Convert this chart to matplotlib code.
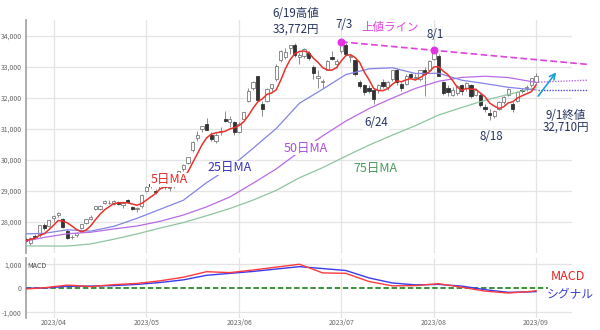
import numpy as np
import pandas as pd
import matplotlib
matplotlib.use("Agg")
import matplotlib.pyplot as plt
from matplotlib.ticker import FuncFormatter

plt.rcParams['font.family'] = ['Noto Sans CJK JP', 'DejaVu Sans']

# ---------------- data ----------------
mar_days = [24, 27, 28, 29, 30, 31]
apr_days = [3, 4, 5, 6, 7, 10, 11, 12, 13, 14, 17, 18, 19, 20, 21, 24, 25, 26, 27, 28]
may_days = [1, 2, 8, 9, 10, 11, 12, 15, 16, 17, 18, 19, 22, 23, 24, 25, 26, 29, 30, 31]
jun_days = [1, 2, 5, 6, 7, 8, 9, 12, 13, 14, 15, 16, 19, 20, 21, 22, 23, 26, 27, 28, 29, 30]
jul_days = [3, 4, 5, 6, 7, 10, 11, 12, 13, 14, 18, 19, 20, 21, 24, 25, 26, 27, 28, 31]
aug_days = [1, 2, 3, 4, 7, 8, 9, 10, 14, 15, 16, 17, 18, 21, 22, 23, 24, 25, 28, 29, 30, 31]
sep_days = [1]
month_days = [(3, mar_days), (4, apr_days), (5, may_days), (6, jun_days),
              (7, jul_days), (8, aug_days), (9, sep_days)]
dates = [f"{m:02d}/{d:02d}" for m, days in month_days for d in days]

opens = [27440, 27300, 27520, 27560, 27900, 27870,
         28130, 28220, 28100, 27700, 27500, 27560, 27800, 27950, 28080, 28400, 28400, 28600, 28600, 28570,
         28620, 28550, 28690, 28480, 28400, 28500,
         29000, 29200, 29000, 29100, 29200, 29100, 29150, 29500, 29700, 29900, 30300, 30700, 31000, 31150,
         30800, 30600, 30900, 31300, 31200, 31200,
         30900, 31300, 31900, 32300, 32700, 31800, 31900, 32300, 32600, 33200, 33300, 33600, 33700, 33300,
         33350, 33450, 33000, 32650, 32500, 32900, 33300, 33100,
         33500, 33700, 33300, 33200, 32500, 32400, 32300, 32250, 32250, 32500, 32350, 32600, 32900, 32450,
         32450, 32750, 32650, 32600, 32900, 32900,
         33250, 33350, 32500, 32300, 32100, 32150, 32400, 32300, 32400, 32100, 32100, 31700, 31500, 31400,
         31650, 31850, 32100, 31800, 31900, 32250, 32300, 32400,
         32500]
highs = [27520, 27520, 27600, 27900, 27950, 28050,
         28200, 28300, 28130, 27750, 27560, 27660, 27930, 28100, 28200, 28520, 28550, 28700, 28700, 28700,
         28680, 28620, 28720, 28520, 28470, 28880,
         29150, 29280, 29050, 29260, 29250, 29180, 29400, 29650, 29850, 30100, 30600, 30920, 31100, 31350,
         30900, 30850, 31050, 31560, 31400, 31250,
         31200, 31550, 32300, 32550, 32710, 31900, 32300, 32450, 33100, 33550, 33600, 33710, 33772, 33450,
         33600, 33500, 33050, 32900, 32600, 33200, 33500, 33250,
         33762, 33760, 33400, 33220, 32580, 32450, 32400, 32300, 32450, 32600, 32550, 32900, 32950, 32500,
         32750, 32800, 32750, 32900, 33000, 33200,
         33488, 33400, 32550, 32400, 32350, 32400, 32450, 32500, 32450, 32300, 32150, 31800, 31620, 31600,
         31900, 32050, 32300, 31850, 32200, 32300, 32400, 32650,
         32800]
lows = [27300, 27250, 27460, 27520, 27720, 27840,
        28000, 28150, 27800, 27430, 27430, 27500, 27750, 27930, 28050, 28370, 28390, 28560, 28560, 28550,
        28540, 28450, 28590, 28380, 28300, 28450,
        28950, 29100, 28880, 29050, 29050, 29000, 29100, 29450, 29650, 29850, 30250, 30600, 30900, 30950,
        30600, 30550, 30800, 31200, 31050, 30800,
        30850, 31250, 31850, 32250, 31900, 31400, 31850, 32200, 32550, 33150, 33250, 33400, 33300, 33100,
        33280, 33200, 32600, 32300, 32300, 32880, 33200, 32950,
        33450, 33400, 33150, 32700, 32300, 32100, 32150, 31800, 32150, 32300, 32250, 32550, 32400, 32200,
        32400, 32650, 32600, 32550, 32050, 32850,
        33200, 32700, 32100, 32050, 32050, 32100, 32100, 32200, 32000, 32050, 31700, 31550, 31275, 31350,
        31600, 31800, 32050, 31550, 31850, 32150, 32200, 32350,
        32450]
closes = [27385, 27476, 27518, 27883, 27782, 28041,
          28188, 28287, 27813, 27472, 27518, 27633, 27923, 28082, 28157, 28493, 28514, 28658, 28606, 28657,
          28564, 28593, 28620, 28416, 28457, 28856,
          29123, 29157, 28949, 29242, 29122, 29126, 29388, 29626, 29842, 30093, 30573, 30808, 31086, 30958,
          30682, 30801, 30916, 31233, 31328, 30888,
          31148, 31524, 32217, 32506, 31913, 31641, 32265, 32434, 33018, 33502, 33485, 33706, 33370, 33388,
          33575, 33265, 32781, 32698, 32538, 33193, 33234, 33189,
          33753, 33422, 33338, 32773, 32388, 32189, 32203, 31943, 32419, 32391, 32493, 32896, 32490, 32304,
          32700, 32682, 32668, 32891, 32759, 33172,
          33476, 32707, 32159, 32192, 32254, 32377, 32204, 32473, 32059, 32238, 31766, 31626, 31450, 31565,
          31856, 32010, 32287, 31624, 32169, 32227, 32333, 32619,
          32710]

ma_sample_dates = ["03/24", "03/30", "04/06", "04/13", "04/20", "04/27", "05/09", "05/16", "05/23",
                   "05/30", "06/06", "06/13", "06/20", "06/27", "07/04", "07/11", "07/19", "07/26",
                   "08/02", "08/09", "08/17", "08/24", "08/31", "09/01"]
ma25 = [27607, 27625, 27739, 27695, 27850, 28109, 28401, 28693, 29261, 29742, 30368, 31005,
        31819, 32273, 32746, 32930, 32965, 32781, 32787, 32563, 32454, 32335, 32260, 32253]
ma50 = [27372, 27494, 27611, 27660, 27765, 27861, 28013, 28216, 28478, 28796, 29239, 29703,
        30256, 30767, 31244, 31649, 31985, 32300, 32530, 32654, 32692, 32650, 32520, 32503]
ma75 = [27219, 27215, 27214, 27281, 27434, 27605, 27796, 27972, 28193, 28424, 28696, 29010,
        29417, 29743, 30113, 30469, 30791, 31098, 31440, 31684, 31917, 32102, 32287, 32322]
macd = [-30, 20, 130, 70, 150, 200, 310, 460, 690, 650, 760, 880,
        1000, 640, 620, 280, 100, 110, 190, 40, -120, -200, -130, -100]
signal = [0, 10, 80, 90, 110, 160, 240, 350, 540, 620, 700, 800,
          900, 820, 740, 430, 220, 140, 160, 90, -60, -170, -150, -140]

month_labels = ["2023/04", "2023/05", "2023/06", "2023/07", "2023/08", "2023/09"]
price_ticks = [28000, 29000, 30000, 31000, 32000, 33000, 34000]
macd_ticks = [-1000, 0, 1000]

# ---------------- derived positions ----------------
x = np.arange(len(dates))
idx = {d: i for i, d in enumerate(dates)}
xs = np.array([idx[d] for d in ma_sample_dates])
ma5 = pd.Series(closes, dtype=float).rolling(5, min_periods=1).mean()
month_pos = [next(i for i, d in enumerate(dates) if d.startswith(lab[-2:] + "/")) for lab in month_labels]

XL = (0.07, 117.75)

fig = plt.figure(figsize=(6, 3.3), dpi=100)
ax = fig.add_axes([26/600, 1-253/330, 546/600, 233/330])
ax2 = fig.add_axes([26/600, 1-318/330, 546/600, 60/330])

grid_c = '#e4e4e4'
for a in (ax, ax2):
    a.set_xlim(*XL)
    for s in ('top', 'right', 'bottom'):
        a.spines[s].set_visible(False)
    a.spines['left'].set_color('#a0a0a0')
    a.spines['left'].set_linewidth(1.2)
    a.tick_params(length=0, labelsize=5, labelcolor='#666666', pad=3)
    a.set_xticks(month_pos)
    for p in month_pos:
        a.axvline(p, color=grid_c, lw=0.9, zorder=0)

ax.set_ylim(26990, 34506)
ax.set_yticks(price_ticks)
ax.yaxis.set_major_formatter(FuncFormatter(lambda v, p: f"{int(v):,}"))
ax.set_xticklabels([])
for t in price_ticks:
    ax.axhline(t, color=grid_c, lw=0.9, zorder=0)

# candles
o = np.array(opens); c = np.array(closes); h = np.array(highs); l = np.array(lows)
up = c >= o
ax.vlines(x, l, h, color='#7a7a7a', lw=0.6, zorder=2)
body_h = np.maximum(np.abs(c - o), 15)
ax.bar(x[up], body_h[up], bottom=np.minimum(o, c)[up], width=0.7,
       color='white', edgecolor='#7a7a7a', linewidth=0.6, zorder=3)
ax.bar(x[~up], body_h[~up], bottom=np.minimum(o, c)[~up], width=0.7,
       color='#333333', edgecolor='#333333', linewidth=0.6, zorder=3)

# moving averages
ax.plot(xs, ma75, color='#8fc4a0', lw=0.9, zorder=4)
ax.plot(xs, ma50, color='#b86ce8', lw=0.9, zorder=4)
ax.plot(xs, ma25, color='#8484e6', lw=0.9, zorder=4)
ax.plot(x, ma5, color='#e8332c', lw=1.1, zorder=5)

# extension dotted lines
ax.plot([xs[-1] + 0.5, 121], [ma50[-1], ma50[-1] + 60], color='#b86ce8', lw=1.0,
        ls=(0, (1, 1)), clip_on=False, zorder=5)
ax.plot([xs[-1] + 0.5, 121], [ma25[-1], ma25[-1]], color='#4a4ad8', lw=1.0,
        ls=(0, (1, 1)), clip_on=False, zorder=5)

# resistance line
i1, i2 = idx["07/03"], idx["08/01"]
slope = (highs[i2] - highs[i1]) / (i2 - i1)
xe = 121.2
ax.plot([i1, xe], [highs[i1] + 40, highs[i1] + 40 + slope * (xe - i1)], color='#e040e0',
        lw=1.2, ls=(0, (4, 2)), clip_on=False, zorder=6)
ax.scatter([i1, i2], [highs[i1] + 40, highs[i2] + 40], s=22, color='#e82ee8', zorder=7, clip_on=False)

# arrow
ax.annotate('', xy=(114.7, 32890), xytext=(110.1, 31980),
            arrowprops=dict(arrowstyle='->', color='#1e9fd6', lw=1.2), annotation_clip=False, zorder=7)

navy = '#26345e'
bb = dict(facecolor='white', edgecolor='none', pad=0.5)
ax.text(58.3, 34458, "6/19高値\n33,772円", ha='center', va='center', fontsize=8.3, color=navy,
        linespacing=1.2, bbox=bb, zorder=8, clip_on=False)
ax.text(68.6, 34345, "7/3", ha='center', va='center', fontsize=8.3, color=navy, zorder=8)
ax.text(78.5, 34248, "上値ライン", ha='center', va='center', fontsize=8.3, color='#e040e0', zorder=8)
ax.text(88.2, 34023, "8/1", ha='center', va='center', fontsize=8.3, color=navy, zorder=8)
ax.text(75.5, 31184, "6/24", ha='center', va='center', fontsize=8.3, color=navy, bbox=bb, zorder=8)
ax.text(100.3, 30732, "8/18", ha='center', va='center', fontsize=8.3, color=navy, bbox=bb, zorder=8)
ax.text(116.4, 31440, "9/1終値", ha='center', va='center', fontsize=8.3, color=navy, zorder=8, clip_on=False)
ax.text(116.4, 31050, "32,710円", ha='center', va='center', fontsize=8.3, color=navy, zorder=8, clip_on=False)
ax.text(30.9, 29345, "5日MA", ha='center', va='center', fontsize=9, color='#e02a2a', bbox=bb, zorder=8)
ax.text(44.0, 29732, "25日MA", ha='center', va='center', fontsize=9, color='#3434b8', bbox=bb, zorder=8)
ax.text(60.4, 30377, "50日MA", ha='center', va='center', fontsize=9, color='#a650d8', bbox=bb, zorder=8)
ax.text(75.3, 29700, "75日MA", ha='center', va='center', fontsize=9, color='#4a9a5a', bbox=bb, zorder=8)

# MACD panel
ax2.set_ylim(-1240, 1260)
ax2.set_yticks(macd_ticks)
ax2.yaxis.set_major_formatter(FuncFormatter(lambda v, p: f"{int(v):,}"))
ax2.set_xticklabels(month_labels)
ax2.tick_params(axis='x', pad=0.8)
for t in (-1000, 1000):
    ax2.axhline(t, color=grid_c, lw=0.9, zorder=0)
ax2.plot([XL[0], 112.6], [0, 0], color='#2a8a2a', lw=1.3, ls=(0, (3, 1.5)), zorder=2)
ax2.plot(xs, signal, color='#3a3af0', lw=1.0, zorder=3)
ax2.plot(xs, macd, color='#ff3b3b', lw=1.0, zorder=4)
ax2.text(0.3, 930, "MACD", ha='left', va='center', fontsize=5, color='#444444')
ax2.text(116.9, 470, "MACD", ha='center', va='center', fontsize=9, color='#e82020', clip_on=False)
ax2.text(117.3, -280, "シグナル", ha='center', va='center', fontsize=8.5, color='#3a3ad8', clip_on=False)

fig.savefig("out.png", dpi=100)
